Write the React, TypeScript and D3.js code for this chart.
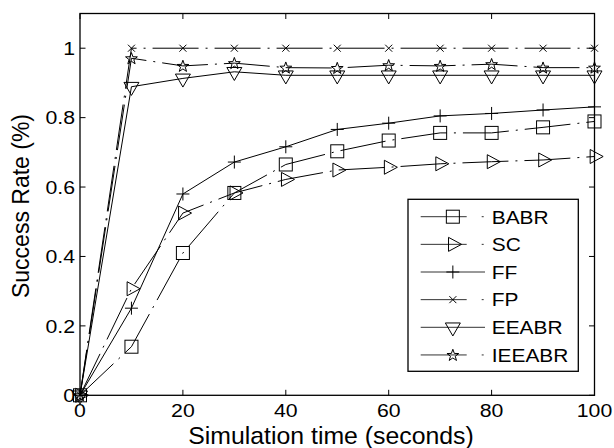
import React from "react";
import * as d3 from "d3";

const xValues = [0, 10, 20, 30, 40, 50, 60, 70, 80, 90, 100];
const BABR = [0, 0.14, 0.41, 0.583, 0.665, 0.703, 0.734, 0.756, 0.756, 0.772, 0.789];
const SC = [0, 0.307, 0.525, 0.583, 0.622, 0.649, 0.657, 0.667, 0.673, 0.678, 0.688];
const FF = [0, 0.251, 0.58, 0.672, 0.716, 0.766, 0.784, 0.805, 0.812, 0.822, 0.831];
const FP = [0, 1, 1, 1, 1, 1, 1, 1, 1, 1, 1];
const EEABR = [0, 0.889, 0.913, 0.932, 0.922, 0.922, 0.922, 0.922, 0.922, 0.922, 0.922];
const IEEABR = [0, 0.971, 0.949, 0.957, 0.944, 0.943, 0.951, 0.949, 0.954, 0.944, 0.944];

const seriesNames = ["BABR", "SC", "FF", "FP", "EEABR", "IEEABR"];
const xTicks = [0, 20, 40, 60, 80, 100];
const xTickLabels = ["0", "20", "40", "60", "80", "100"];
const yTicks = [0, 0.2, 0.4, 0.6, 0.8, 1];
const yTickLabels = ["0", "0.2", "0.4", "0.6", "0.8", "1"];

const FONT = "'Liberation Sans', Arial, Helvetica, sans-serif";

type MarkerKind = "square" | "tright" | "plus" | "cross" | "tdown" | "star";

function Marker({ kind, cx, cy }: { kind: MarkerKind; cx: number; cy: number }) {
  const st = { fill: "none", stroke: "#000", strokeWidth: 1 };
  if (kind === "square") {
    return <rect x={cx - 6.5} y={cy - 6.5} width={13} height={13} {...st} />;
  }
  if (kind === "tright") {
    const w = 13, h = 14;
    const pts = [[cx - w / 3, cy - h / 2], [cx + (2 * w) / 3, cy], [cx - w / 3, cy + h / 2]];
    return <polygon points={pts.map((p) => p.join(",")).join(" ")} {...st} />;
  }
  if (kind === "tdown") {
    const w = 15, h = 13;
    const pts = [[cx - w / 2, cy - h / 3], [cx + w / 2, cy - h / 3], [cx, cy + (2 * h) / 3]];
    return <polygon points={pts.map((p) => p.join(",")).join(" ")} {...st} />;
  }
  if (kind === "plus") {
    return <path d={`M${cx - 6.5},${cy}H${cx + 6.5}M${cx},${cy - 6.5}V${cy + 6.5}`} {...st} />;
  }
  if (kind === "cross") {
    const r = 3.5;
    return <path d={`M${cx - r},${cy - r}L${cx + r},${cy + r}M${cx - r},${cy + r}L${cx + r},${cy - r}`} {...st} />;
  }
  const R = 6.2, r = 2.5;
  const pts: number[][] = [];
  for (let i = 0; i < 10; i++) {
    const a = -Math.PI / 2 + (i * Math.PI) / 5;
    const rad = i % 2 === 0 ? R : r;
    pts.push([cx + rad * Math.cos(a), cy + rad * Math.sin(a) + 0.5]);
  }
  return <polygon points={pts.map((p) => p.join(",")).join(" ")} {...st} />;
}

function T({
  x, y, size, sx = 1, anchor = "start", rotate = 0, children,
}: { x: number; y: number; size: number; sx?: number; anchor?: string; rotate?: number; children: React.ReactNode }) {
  return (
    <text
      transform={`translate(${x},${y}) rotate(${rotate}) scale(${sx},1)`}
      textAnchor={anchor}
      fontFamily={FONT}
      fontSize={size}
      fill="#000"
    >
      {children}
    </text>
  );
}

export default function App() {
  const width = 614, height = 448;
  const x = d3.scaleLinear().domain([0, 100]).range([80, 594.5]);
  const y = d3.scaleLinear().domain([0, 1.1]).range([395.3, 13.5]);

  const allSeries = [BABR, SC, FF, FP, EEABR, IEEABR];
  const kinds: MarkerKind[] = ["square", "tright", "plus", "cross", "tdown", "star"];
  const dashed = [true, true, false, true, false, true];

  const line = d3
    .line<number>()
    .x((_, i) => x(xValues[i]))
    .y((d) => y(d));

  const [x0, x1] = x.range();
  const [yb, yt] = y.range();
  const tickLen = 5.5;

  const legX = 408, legY = 199.3, legW = 170.3, legH = 172;
  const rowY0 = 216.7, rowStep = 27.65;
  const lineX0 = 420.7, lineX1 = 485;

  return (
    <svg width={width} height={height} style={{ position: "absolute", left: 0, top: 0, background: "#fff" }}>
      <rect x={0} y={0} width={width} height={height} fill="#fff" />
      {allSeries.map((s, si) => (
        <path
          key={"l" + si}
          d={line(s) || ""}
          fill="none"
          stroke="#000"
          strokeWidth={1}
          strokeDasharray={dashed[si] ? "46,7,2,7" : undefined}
        />
      ))}
      {allSeries.map((s, si) =>
        s.map((v, i) => <Marker key={`m${si}-${i}`} kind={kinds[si]} cx={x(xValues[i])} cy={y(v)} />)
      )}
      <rect x={x0} y={yt} width={x1 - x0} height={yb - yt} fill="none" stroke="#000" strokeWidth={1.3} />
      {xTicks.map((t, i) => (
        <g key={"xt" + i}>
          <line x1={x(t)} x2={x(t)} y1={yb} y2={yb - tickLen} stroke="#000" strokeWidth={1} />
          <line x1={x(t)} x2={x(t)} y1={yt} y2={yt + tickLen} stroke="#000" strokeWidth={1} />
          <T x={x(t)} y={417} size={19} sx={1.12} anchor="middle">
            {xTickLabels[i]}
          </T>
        </g>
      ))}
      {yTicks.map((t, i) => (
        <g key={"yt" + i}>
          <line x1={x0} x2={x0 + tickLen} y1={y(t)} y2={y(t)} stroke="#000" strokeWidth={1} />
          <line x1={x1} x2={x1 - tickLen} y1={y(t)} y2={y(t)} stroke="#000" strokeWidth={1} />
          <T x={75} y={y(t) + 6.8} size={19} sx={1.12} anchor="end">
            {yTickLabels[i]}
          </T>
        </g>
      ))}
      <T x={331} y={444} size={24} sx={1.035} anchor="middle">
        Simulation time (seconds)
      </T>
      <T x={29} y={206} size={23} anchor="middle" rotate={-90}>
        Success Rate (%)
      </T>
      <rect x={legX} y={legY} width={legW} height={legH} fill="#fff" stroke="#000" strokeWidth={1.3} />
      {seriesNames.map((name, i) => {
        const ry = rowY0 + i * rowStep;
        return (
          <g key={"lg" + i}>
            <line
              x1={lineX0}
              x2={lineX1}
              y1={ry}
              y2={ry}
              stroke="#333"
              strokeWidth={1}
              strokeDasharray={dashed[i] ? "46,15,2,100" : undefined}
            />
            <Marker kind={kinds[i]} cx={(lineX0 + lineX1) / 2} cy={ry} />
            <T x={491.7} y={ry + 6.8} size={19} sx={1.1}>
              {name}
            </T>
          </g>
        );
      })}
    </svg>
  );
}
